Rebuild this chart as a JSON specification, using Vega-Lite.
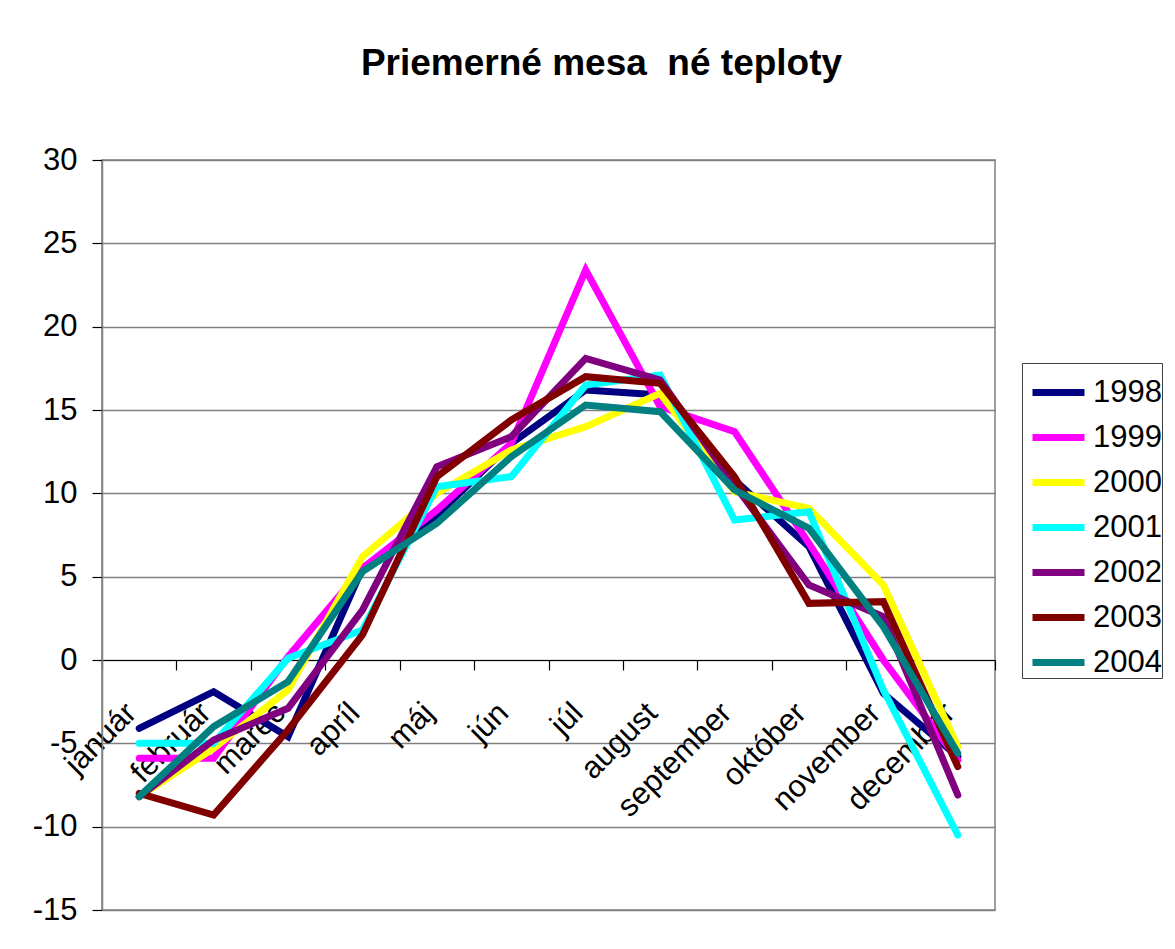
{
  "$schema": "https://vega.github.io/schema/vega-lite/v6.json",
  "width": 893,
  "height": 750,
  "autosize": {"type": "none"},
  "padding": {"left": 102, "top": 160, "right": 180, "bottom": 39},
  "background": "white",
  "config": {
    "font": "Liberation Sans",
    "view": {"stroke": "#808080", "strokeWidth": 1.5}
  },
  "title": {
    "text": "Priemerné mesa \u00a0né teploty",
    "fontSize": 37,
    "fontWeight": "bold",
    "font": "Liberation Sans",
    "color": "black",
    "anchor": "middle",
    "dx": 53,
    "baseline": "alphabetic",
    "offset": 32
  },
  "data": {
    "values": [
      {"m": "január", "y": "1998", "t": -4.1},
      {"m": "február", "y": "1998", "t": -1.9},
      {"m": "marec", "y": "1998", "t": -4.6},
      {"m": "apríl", "y": "1998", "t": 5.5},
      {"m": "máj", "y": "1998", "t": 8.7},
      {"m": "jún", "y": "1998", "t": 13.0},
      {"m": "júl", "y": "1998", "t": 16.2},
      {"m": "august", "y": "1998", "t": 15.9},
      {"m": "september", "y": "1998", "t": 10.8},
      {"m": "október", "y": "1998", "t": 6.8},
      {"m": "november", "y": "1998", "t": -2.0},
      {"m": "december", "y": "1998", "t": -5.8},

      {"m": "január", "y": "1999", "t": -5.9},
      {"m": "február", "y": "1999", "t": -5.9},
      {"m": "marec", "y": "1999", "t": 0.2},
      {"m": "apríl", "y": "1999", "t": 5.5},
      {"m": "máj", "y": "1999", "t": 9.0},
      {"m": "jún", "y": "1999", "t": 13.0},
      {"m": "júl", "y": "1999", "t": 23.4},
      {"m": "august", "y": "1999", "t": 15.2},
      {"m": "september", "y": "1999", "t": 13.7},
      {"m": "október", "y": "1999", "t": 7.0},
      {"m": "november", "y": "1999", "t": 0.0},
      {"m": "december", "y": "1999", "t": -6.0},

      {"m": "január", "y": "2000", "t": -8.2},
      {"m": "február", "y": "2000", "t": -5.3},
      {"m": "marec", "y": "2000", "t": -1.8},
      {"m": "apríl", "y": "2000", "t": 6.2},
      {"m": "máj", "y": "2000", "t": 10.0},
      {"m": "jún", "y": "2000", "t": 12.6},
      {"m": "júl", "y": "2000", "t": 14.0},
      {"m": "august", "y": "2000", "t": 16.0},
      {"m": "september", "y": "2000", "t": 10.1},
      {"m": "október", "y": "2000", "t": 9.1},
      {"m": "november", "y": "2000", "t": 4.5},
      {"m": "december", "y": "2000", "t": -5.2},

      {"m": "január", "y": "2001", "t": -5.0},
      {"m": "február", "y": "2001", "t": -5.0},
      {"m": "marec", "y": "2001", "t": 0.1},
      {"m": "apríl", "y": "2001", "t": 1.8},
      {"m": "máj", "y": "2001", "t": 10.4},
      {"m": "jún", "y": "2001", "t": 11.0},
      {"m": "júl", "y": "2001", "t": 16.5},
      {"m": "august", "y": "2001", "t": 17.1},
      {"m": "september", "y": "2001", "t": 8.4},
      {"m": "október", "y": "2001", "t": 8.9},
      {"m": "november", "y": "2001", "t": -1.8},
      {"m": "december", "y": "2001", "t": -10.5},

      {"m": "január", "y": "2002", "t": -8.2},
      {"m": "február", "y": "2002", "t": -4.8},
      {"m": "marec", "y": "2002", "t": -2.9},
      {"m": "apríl", "y": "2002", "t": 3.0},
      {"m": "máj", "y": "2002", "t": 11.6},
      {"m": "jún", "y": "2002", "t": 13.4},
      {"m": "júl", "y": "2002", "t": 18.1},
      {"m": "august", "y": "2002", "t": 16.8},
      {"m": "september", "y": "2002", "t": 10.5},
      {"m": "október", "y": "2002", "t": 4.5},
      {"m": "november", "y": "2002", "t": 2.6},
      {"m": "december", "y": "2002", "t": -8.1},

      {"m": "január", "y": "2003", "t": -8.0},
      {"m": "február", "y": "2003", "t": -9.3},
      {"m": "marec", "y": "2003", "t": -4.2},
      {"m": "apríl", "y": "2003", "t": 1.5},
      {"m": "máj", "y": "2003", "t": 11.0},
      {"m": "jún", "y": "2003", "t": 14.4},
      {"m": "júl", "y": "2003", "t": 17.0},
      {"m": "august", "y": "2003", "t": 16.6},
      {"m": "september", "y": "2003", "t": 11.0},
      {"m": "október", "y": "2003", "t": 3.4},
      {"m": "november", "y": "2003", "t": 3.5},
      {"m": "december", "y": "2003", "t": -6.4},

      {"m": "január", "y": "2004", "t": -8.2},
      {"m": "február", "y": "2004", "t": -4.0},
      {"m": "marec", "y": "2004", "t": -1.3},
      {"m": "apríl", "y": "2004", "t": 5.3},
      {"m": "máj", "y": "2004", "t": 8.2},
      {"m": "jún", "y": "2004", "t": 12.2},
      {"m": "júl", "y": "2004", "t": 15.3},
      {"m": "august", "y": "2004", "t": 14.9},
      {"m": "september", "y": "2004", "t": 10.2},
      {"m": "október", "y": "2004", "t": 7.9},
      {"m": "november", "y": "2004", "t": 2.0},
      {"m": "december", "y": "2004", "t": -5.6}
    ]
  },
  "mark": {"type": "line", "strokeWidth": 7, "strokeCap": "round", "strokeJoin": "miter"},
  "encoding": {
    "x": {
      "field": "m",
      "type": "nominal",
      "sort": null,
      "bandPosition": 0.5,
      "scale": {"type": "band", "paddingInner": 0, "paddingOuter": 0},
      "axis": {
        "title": null,
        "offset": -250,
        "domainColor": "black",
        "domainWidth": 1.2,
        "tickColor": "black",
        "tickWidth": 1.2,
        "tickSize": 10,
        "tickBand": "extent",
        "grid": false,
        "labelAngle": -45,
        "labelAlign": "right",
        "labelBaseline": "middle",
        "labelFontSize": 31,
        "labelFont": "Liberation Sans",
        "labelColor": "black",
        "labelPadding": 38,
        "labelOffset": -8,
        "labelOverlap": false,
        "labelLimit": 400
      }
    },
    "y": {
      "field": "t",
      "type": "quantitative",
      "scale": {"domain": [-15, 30], "nice": false, "zero": false},
      "axis": {
        "title": null,
        "values": [-15, -10, -5, 0, 5, 10, 15, 20, 25, 30],
        "labelExpr": "'' + datum.value",
        "grid": true,
        "gridColor": "#808080",
        "gridWidth": 1.3,
        "domainColor": "#808080",
        "domainWidth": 1.5,
        "tickColor": "black",
        "tickWidth": 1.2,
        "tickSize": 10,
        "labelFontSize": 31,
        "labelFont": "Liberation Sans",
        "labelColor": "black",
        "labelPadding": 15
      }
    },
    "color": {
      "field": "y",
      "type": "nominal",
      "scale": {
        "domain": ["1998", "1999", "2000", "2001", "2002", "2003", "2004"],
        "range": ["#000080", "#FF00FF", "#FFFF00", "#00FFFF", "#800080", "#800000", "#008080"]
      },
      "legend": {
        "title": null,
        "orient": "none",
        "legendX": 920,
        "legendY": 203,
        "padding": 0,
        "symbolOffset": 7,
        "strokeColor": "#404040",
        "fillColor": "white",
        "symbolType": "stroke",
        "symbolSize": 2704,
        "symbolStrokeWidth": 7,
        "labelFontSize": 31,
        "labelFont": "Liberation Sans",
        "labelColor": "black",
        "labelOffset": 5,
        "labelExpr": "datum.label + '\u00a0'",
        "rowPadding": -6
      }
    }
  }
}
